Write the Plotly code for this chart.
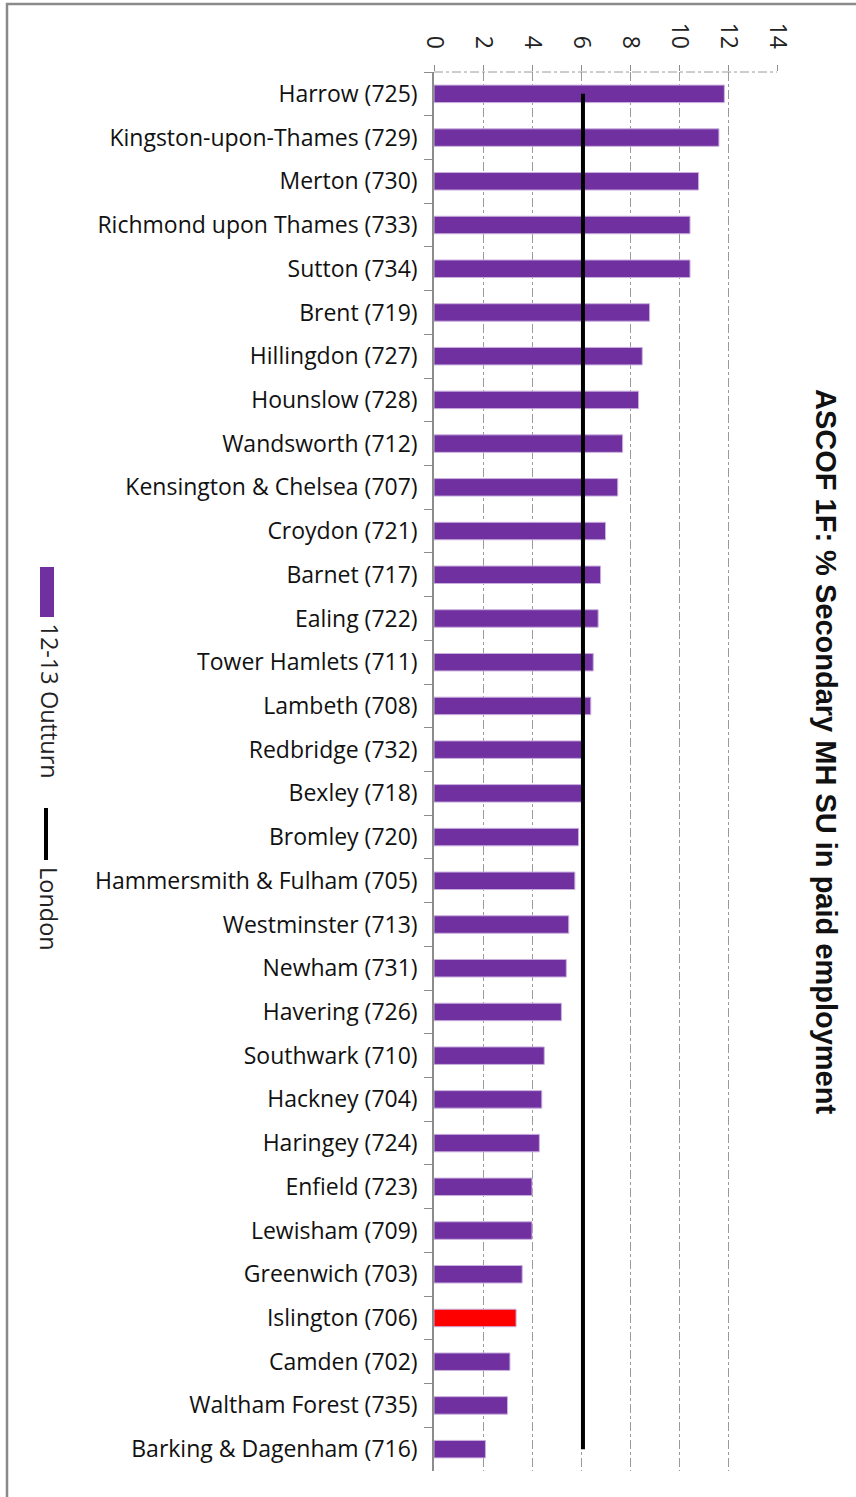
import plotly.graph_objects as go

# boroughs, top to bottom
BOROUGHS = [
    "Harrow (725)", "Kingston-upon-Thames (729)", "Merton (730)",
    "Richmond upon Thames (733)", "Sutton (734)", "Brent (719)",
    "Hillingdon (727)", "Hounslow (728)", "Wandsworth (712)",
    "Kensington & Chelsea (707)", "Croydon (721)", "Barnet (717)",
    "Ealing (722)", "Tower Hamlets (711)", "Lambeth (708)",
    "Redbridge (732)", "Bexley (718)", "Bromley (720)",
    "Hammersmith & Fulham (705)", "Westminster (713)", "Newham (731)",
    "Havering (726)", "Southwark (710)", "Hackney (704)",
    "Haringey (724)", "Enfield (723)", "Lewisham (709)",
    "Greenwich (703)", "Islington (706)", "Camden (702)",
    "Waltham Forest (735)", "Barking & Dagenham (716)",
]
OUTTURN = [
    11.85, 11.63, 10.8, 10.45, 10.45, 8.8, 8.5, 8.35, 7.7, 7.5,
    7.0, 6.8, 6.7, 6.5, 6.4, 6.05, 6.05, 5.9, 5.75, 5.5,
    5.4, 5.2, 4.5, 4.4, 4.3, 4.0, 4.0, 3.6, 3.35, 3.1,
    3.0, 2.1,
]
LONDON = 6.08
HIGHLIGHT = "Islington (706)"
X_TICKS = [0, 2, 4, 6, 8, 10, 12, 14]

PURPLE = "#7030A0"
RED = "#FF0000"
GRID = "#9A9A9A"
AXIS = "#8C8C8C"
FONT = "Open Sans, Carlito, Calibri, sans-serif"

# plot area in pixels (for placing the frame, title and legend)
L, T, W, H = 434, 72, 343, 1399


def px(x):
    return (x - L) / W


def py(y):
    return 1 - (y - T) / H


colors = [RED if b == HIGHLIGHT else PURPLE for b in BOROUGHS]

fig = go.Figure()

fig.add_trace(go.Bar(
    x=OUTTURN,
    y=BOROUGHS,
    orientation="h",
    marker=dict(color=colors, line=dict(color="#C9B0DE", width=1)),
    width=0.4,
    name="12-13 Outturn",
    showlegend=False,
))

fig.add_trace(go.Scatter(
    x=[LONDON] * len(BOROUGHS),
    y=BOROUGHS,
    mode="lines",
    line=dict(color="black", width=4),
    name="London",
    showlegend=False,
))

fig.update_xaxes(
    side="top",
    range=[0, 14],
    tickvals=X_TICKS,
    tickangle=90,
    tickfont=dict(family=FONT, size=23, color="#222"),
    showgrid=True,
    gridcolor=GRID,
    griddash="dashdot",
    gridwidth=1,
    zeroline=False,
    ticks="outside",
    ticklen=6,
    tickcolor=AXIS,
    ticklabelstandoff=8,
    showline=False,
    automargin=False,
)

fig.update_yaxes(
    range=[len(BOROUGHS) - 0.5, -0.5],
    tickson="boundaries",
    ticks="outside",
    ticklen=8,
    tickcolor=AXIS,
    showline=True,
    linecolor=AXIS,
    linewidth=1.5,
    ticklabelstandoff=10,
    tickfont=dict(family=FONT, size=23, color="#111"),
    showgrid=False,
    automargin=False,
)

# top frame line of the plot area (dash-dot like the grid)
fig.add_shape(type="line", xref="paper", yref="paper", x0=0, x1=1, y0=1, y1=1,
              line=dict(color=GRID, width=1, dash="dashdot"))

# outer chart frame
fig.add_shape(type="rect", xref="paper", yref="paper",
              x0=px(7), x1=px(870), y0=py(1510), y1=py(4),
              line=dict(color="#8A8A8A", width=2.5), layer="below")

# rotated title on the right
fig.add_annotation(
    text="<b>ASCOF 1F: % Secondary MH SU in paid employment</b>",
    xref="paper", yref="paper", x=px(844), y=py(751),
    showarrow=False, textangle=90,
    font=dict(family="Liberation Sans, Arial, sans-serif", size=29, color="#111"),
)

# rotated legend on the left
fig.add_shape(type="rect", xref="paper", yref="paper",
              x0=px(40), x1=px(54), y0=py(617), y1=py(567),
              line=dict(width=0), fillcolor=PURPLE)
fig.add_annotation(
    text="12-13 Outturn", xref="paper", yref="paper",
    x=px(31), y=py(621), yanchor="top",
    showarrow=False, textangle=90,
    font=dict(family=FONT, size=23.5, color="#222"),
)
fig.add_shape(type="line", xref="paper", yref="paper",
              x0=px(46), x1=px(46), y0=py(860), y1=py(808),
              line=dict(color="black", width=4))
fig.add_annotation(
    text="London", xref="paper", yref="paper",
    x=px(31), y=py(865), yanchor="top",
    showarrow=False, textangle=90,
    font=dict(family=FONT, size=23.5, color="#222"),
)

fig.update_layout(
    width=856,
    height=1497,
    margin=dict(l=L, r=856 - L - W, t=T, b=1497 - T - H),
    paper_bgcolor="white",
    plot_bgcolor="white",
    showlegend=False,
)

fig.write_html("out.html", config={"displayModeBar": False},
               post_script="document.body.style.margin='0';")
